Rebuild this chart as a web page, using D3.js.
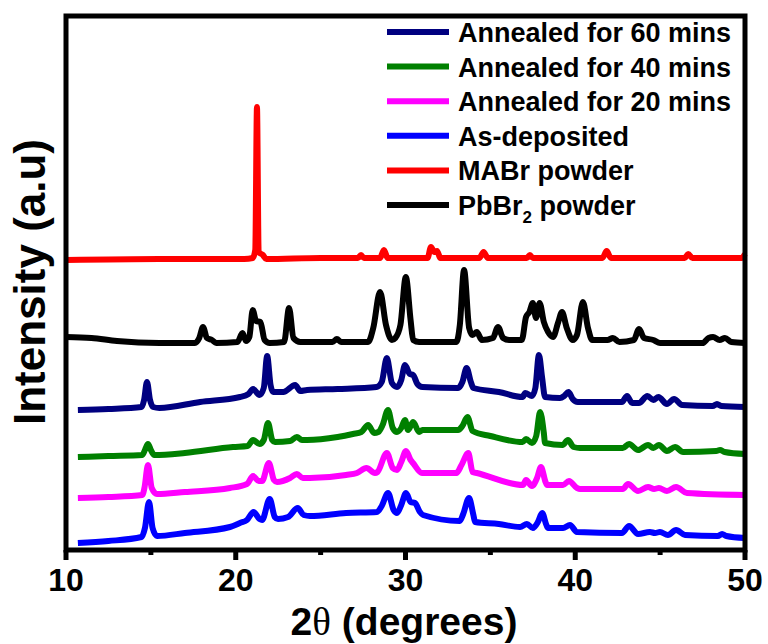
<!DOCTYPE html>
<html>
<head>
<meta charset="utf-8">
<script src="https://cdn.jsdelivr.net/npm/d3@7"></script>
<style>
  html, body { margin: 0; padding: 0; background: #fff; }
  text { font-family: Arial, "Liberation Sans", sans-serif; font-weight: bold; fill: #000; }
</style>
</head>
<body>
<svg id="chart" width="768" height="644"></svg>
<script>
// 2-theta ticks
const xTicks = [10, 20, 30, 40, 50];
const xMinorTicks = [15, 25, 35, 45];

// traces, [2theta, intensity (a.u., already offset)]
const mabr = [
  [10.0, 290], [15.5, 291], [20.5, 291], [21.0, 292], [21.15, 300], [21.25, 443], [21.35, 298],
  [21.6, 295], [21.8, 291], [25.0, 292], [27.2, 292], [27.38, 295], [27.55, 292], [28.5, 292],
  [28.73, 300], [28.95, 292], [31.3, 292], [31.5, 303], [31.7, 298], [31.86, 299], [32.05, 292],
  [34.35, 292], [34.6, 298], [34.85, 292], [37.15, 292], [37.33, 295], [37.5, 292], [41.6, 292],
  [41.85, 299], [42.1, 292], [46.45, 292], [46.65, 296], [46.9, 292], [49.8, 292], [50.0, 296]
];
const pbbr2 = [
  [10.0, 213], [11.5, 212], [13.0, 209], [15.5, 207], [17.6, 207], [17.85, 212], [18.07, 223],
  [18.3, 212], [18.6, 210], [18.85, 207], [20.1, 208], [20.4, 217], [20.6, 209], [20.8, 213],
  [21.0, 240], [21.2, 229], [21.45, 228], [21.7, 210], [22.0, 207], [22.85, 208], [23.14, 242],
  [23.4, 212], [23.8, 208], [25.7, 208], [25.96, 211], [26.2, 208], [27.8, 208], [28.1, 222],
  [28.5, 258], [28.85, 225], [29.2, 210], [29.4, 212], [29.7, 225], [30.02, 273], [30.3, 230],
  [30.45, 210], [30.8, 208], [33.0, 208], [33.2, 225], [33.45, 280], [33.75, 222], [33.95, 215],
  [34.2, 218], [34.5, 210], [35.15, 212], [35.45, 223], [35.75, 212], [36.1, 210], [36.85, 210],
  [37.1, 233], [37.3, 238], [37.5, 247], [37.69, 232], [37.9, 247], [38.15, 228], [38.4, 218],
  [38.69, 213], [39.0, 228], [39.22, 238], [39.5, 222], [39.85, 210], [40.1, 215], [40.45, 248],
  [40.75, 222], [41.0, 210], [41.9, 210], [42.22, 212], [42.6, 208], [43.45, 210], [43.76, 221],
  [44.05, 212], [44.6, 210], [45.0, 207], [47.5, 207], [47.85, 212], [48.12, 213], [48.5, 210],
  [48.82, 212], [49.2, 208], [50.0, 207]
];
const ann60 = [
  [10.7, 140], [12.5, 141], [14.45, 143], [14.6, 150], [14.77, 168], [14.95, 150], [15.13, 143],
  [15.5, 142], [17.9, 148], [20.25, 153], [20.75, 156], [21.02, 161], [21.4, 155], [21.65, 162],
  [21.85, 194], [22.05, 165], [22.2, 158], [22.8, 158], [23.5, 165], [23.8, 159], [24.2, 160],
  [26.0, 161], [28.3, 163], [28.6, 168], [28.9, 192], [29.2, 167], [29.5, 163], [29.75, 170],
  [29.97, 185], [30.25, 176], [30.45, 175], [30.7, 166], [31.0, 163], [33.1, 162], [33.35, 168],
  [33.6, 182], [33.85, 168], [34.0, 162], [35.5, 158], [36.9, 153], [37.05, 157], [37.45, 154],
  [37.65, 162], [37.86, 195], [38.05, 172], [38.22, 153], [39.1, 152], [39.35, 154], [39.6, 158],
  [39.85, 151], [40.15, 148], [42.75, 148], [43.05, 154], [43.35, 147], [43.75, 147], [44.25, 154],
  [44.6, 150], [44.9, 153], [45.4, 146], [45.82, 151], [46.3, 145], [48.1, 144], [48.35, 146],
  [48.6, 144], [50.0, 143]
];
const ann40 = [
  [10.7, 93], [12.5, 94], [14.5, 95], [14.65, 100], [14.83, 106], [15.0, 100], [15.2, 95],
  [17.0, 97], [19.84, 103], [20.7, 104], [21.02, 110], [21.4, 106], [21.65, 110], [21.9, 127],
  [22.15, 110], [22.31, 108], [23.2, 109], [23.6, 113], [23.9, 110], [24.2, 110], [26.0, 113],
  [26.9, 116], [27.4, 118], [27.8, 125], [28.15, 117], [28.4, 118], [28.65, 125], [28.97, 140],
  [29.25, 122], [29.5, 118], [29.75, 122], [29.97, 130], [30.15, 120], [30.45, 128], [30.8, 118],
  [31.0, 120], [33.1, 120], [33.35, 124], [33.65, 133], [33.95, 119], [35.0, 114], [36.9, 108],
  [37.1, 111], [37.45, 107], [37.7, 114], [37.93, 138], [38.15, 117], [38.22, 107], [39.25, 105],
  [39.57, 110], [39.9, 103], [40.28, 102], [42.8, 102], [43.17, 106], [43.7, 100], [44.29, 105],
  [44.6, 102], [44.93, 105], [45.4, 99], [45.88, 103], [46.35, 98], [48.3, 99], [48.53, 100],
  [48.8, 98], [50.0, 96]
];
const ann20 = [
  [10.7, 52], [12.5, 53], [14.5, 55], [14.62, 62], [14.83, 85], [15.05, 62], [15.36, 56],
  [17.0, 58], [19.66, 62], [20.66, 66], [21.02, 74], [21.35, 69], [21.55, 69], [21.95, 87],
  [22.25, 70], [22.43, 68], [23.2, 72], [23.6, 76], [23.95, 72], [24.37, 72], [26.5, 75],
  [27.14, 77], [27.7, 82], [28.2, 77], [28.35, 78], [28.9, 97], [29.25, 82], [29.5, 80],
  [29.75, 88], [30.03, 99], [30.3, 90], [30.44, 87], [30.97, 77], [33.0, 77], [33.3, 85],
  [33.7, 97], [33.95, 78], [34.2, 77], [36.92, 65], [37.1, 70], [37.45, 64], [37.75, 72],
  [37.98, 83], [38.25, 68], [38.34, 65], [39.28, 65], [39.63, 69], [40.1, 62], [40.28, 61],
  [42.8, 61], [43.11, 66], [43.7, 59], [44.29, 63], [44.64, 61], [44.93, 62], [45.4, 59],
  [45.94, 63], [46.58, 57], [50.0, 55]
];
const asDep = [
  [10.7, 7], [12.5, 9], [14.45, 13], [14.65, 22], [14.89, 48], [15.1, 22], [15.36, 14],
  [17.0, 17], [19.66, 23], [20.25, 27], [20.66, 30], [21.05, 38], [21.4, 31], [21.55, 30],
  [22.0, 51], [22.3, 33], [22.49, 31], [23.08, 33], [23.65, 42], [24.0, 35], [24.37, 34],
  [26.5, 37], [28.32, 38], [28.6, 44], [28.97, 57], [29.3, 40], [29.5, 37], [29.75, 45],
  [30.03, 57], [30.3, 48], [30.56, 47], [30.85, 38], [31.03, 35], [33.2, 29], [33.4, 36],
  [33.74, 52], [34.0, 35], [34.1, 28], [35.5, 26], [36.75, 23], [37.15, 26], [37.5, 22],
  [37.8, 28], [38.05, 37], [38.3, 25], [38.4, 22], [39.28, 22], [39.69, 25], [40.1, 18],
  [42.75, 17], [43.17, 24], [43.7, 16], [44.4, 18], [44.7, 17], [44.99, 18], [45.46, 15],
  [45.94, 20], [46.47, 15], [48.4, 14], [48.65, 16], [48.9, 14], [50.0, 12]
];

const seriesNames = ["Annealed for 60 mins", "Annealed for 40 mins", "Annealed for 20 mins",
                     "As-deposited", "MABr powder", "PbBr2 powder"];
const seriesColors = ["#000080", "#008000", "#ff00ff", "#0000ff", "#ff0000", "#000000"];
const seriesData = [ann60, ann40, ann20, asDep, mabr, pbbr2];

const svg = d3.select("#chart");
const plot = { left: 66, right: 745, top: 16, bottom: 550 };

const x = d3.scaleLinear().domain([10, 50]).range([plot.left, plot.right]);
const y = d3.scaleLinear().domain([0, 534]).range([plot.bottom, plot.top]);

const line = d3.line()
  .x(d => x(d[0]))
  .y(d => y(d[1]))
  .curve(d3.curveMonotoneX);

// traces
seriesData.forEach((data, i) => {
  svg.append("path")
    .datum(data)
    .attr("d", line)
    .attr("fill", "none")
    .attr("stroke", seriesColors[i])
    .attr("stroke-width", 6)
    .attr("stroke-linejoin", "round")
    .attr("stroke-linecap", "butt");
});

// frame
svg.append("rect")
  .attr("x", plot.left).attr("y", plot.top)
  .attr("width", plot.right - plot.left).attr("height", plot.bottom - plot.top)
  .attr("fill", "none")
  .attr("stroke", "#000")
  .attr("stroke-width", 5);

// x axis ticks (outward)
svg.selectAll(".major").data(xTicks).enter().append("line")
  .attr("x1", d => x(d)).attr("x2", d => x(d))
  .attr("y1", plot.bottom).attr("y2", plot.bottom + 10)
  .attr("stroke", "#000").attr("stroke-width", 5);

svg.selectAll(".minor").data(xMinorTicks).enter().append("line")
  .attr("x1", d => x(d)).attr("x2", d => x(d))
  .attr("y1", plot.bottom).attr("y2", plot.bottom + 5)
  .attr("stroke", "#000").attr("stroke-width", 5);

svg.selectAll(".tlabel").data(xTicks).enter().append("text")
  .attr("x", d => x(d))
  .attr("y", 591)
  .attr("text-anchor", "middle")
  .attr("font-size", 32)
  .text(d => d);

// axis titles
const xt = svg.append("text")
  .attr("x", 404)
  .attr("y", 635)
  .attr("text-anchor", "middle")
  .attr("font-size", 39);
xt.append("tspan").text("2");
xt.append("tspan").attr("font-family", "'Liberation Serif', 'DejaVu Serif', serif")
  .attr("font-weight", "normal").text("θ");
xt.append("tspan").text(" (degrees)");

svg.append("text")
  .attr("transform", "translate(45,282) rotate(-90)")
  .attr("text-anchor", "middle")
  .attr("font-size", 44)
  .text("Intensity (a.u)");

// legend
const legend = svg.append("g");
seriesNames.forEach((name, i) => {
  const cy = 32 + i * 34.6;
  legend.append("line")
    .attr("x1", 387).attr("x2", 449)
    .attr("y1", cy).attr("y2", cy)
    .attr("stroke", seriesColors[i])
    .attr("stroke-width", 6);
  const t = legend.append("text")
    .attr("x", 458)
    .attr("y", cy + 10)
    .attr("font-size", 27);
  if (name === "PbBr2 powder") {
    t.append("tspan").text("PbBr");
    t.append("tspan").attr("font-size", 17).attr("dy", 8).text("2");
    t.append("tspan").attr("dy", -8).text(" powder");
  } else {
    t.text(name);
  }
});
</script>
</body>
</html>
